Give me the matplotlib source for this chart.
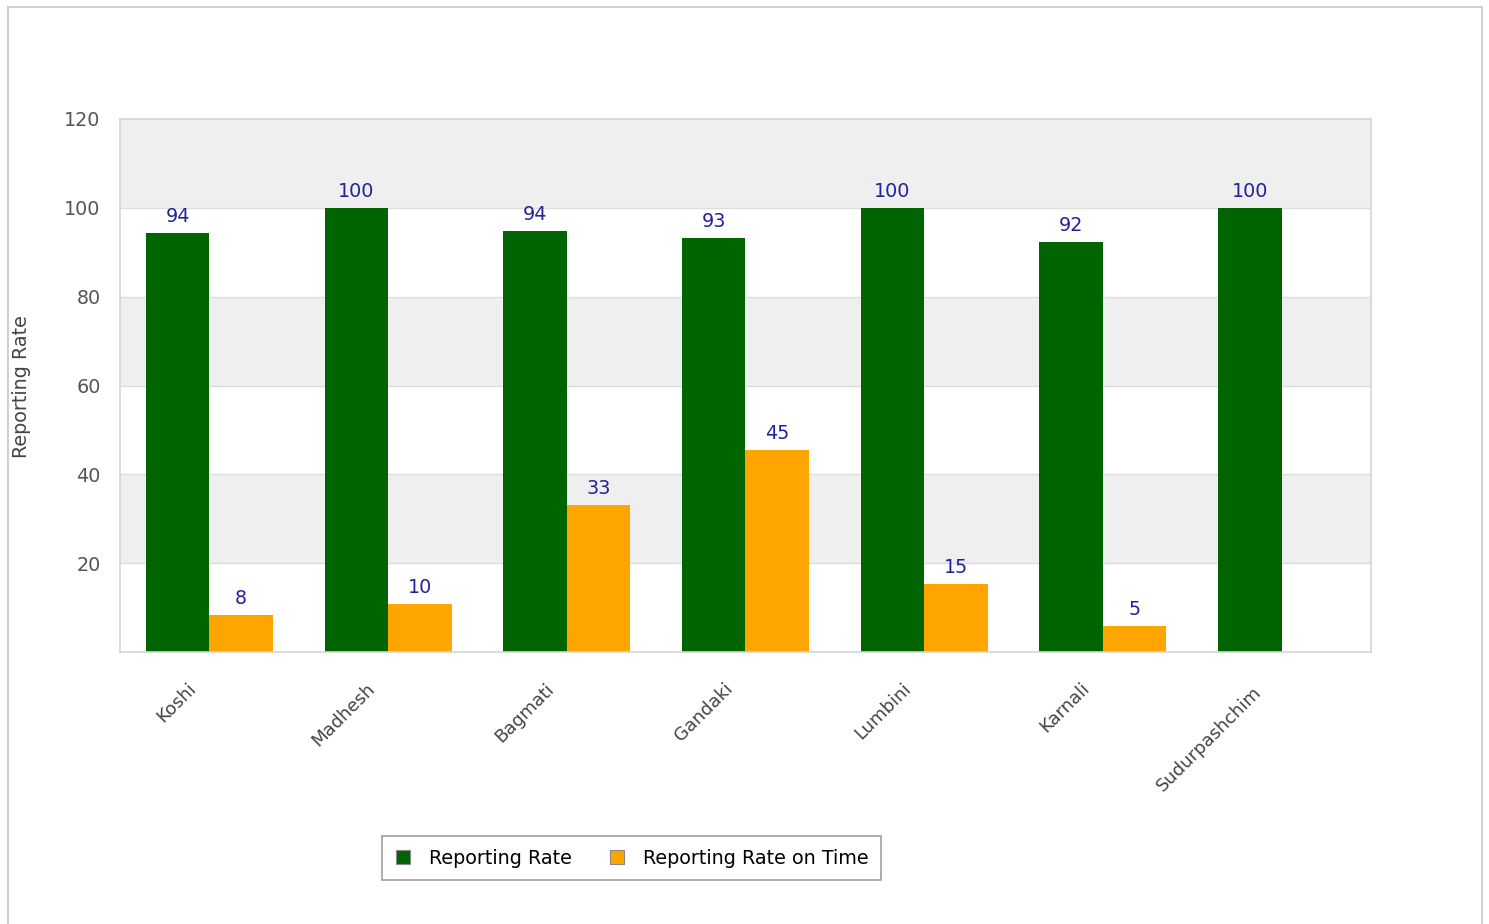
import matplotlib
matplotlib.use("Agg")
import matplotlib.pyplot as plt
import matplotlib.transforms as mtransforms
import numpy as np
from matplotlib.lines import Line2D

provinces = ["Koshi", "Madhesh", "Bagmati", "Gandaki", "Lumbini", "Karnali", "Sudurpashchim"]
reporting_rate = [94.3, 100, 94.8, 93.2, 100, 92.3, 100]
reporting_on_time = [8.3, 10.8, 33.1, 45.5, 15.3, 5.9, 0]
series_names = ["Reporting Rate", "Reporting Rate on Time"]
y_ticks = [20, 40, 60, 80, 100, 120]

GREEN = "#006400"
ORANGE = "#FFA500"
LABEL_COLOR = "#22229a"
TICK_COLOR = "#555555"
FS = 13.8

plt.rcParams['font.family'] = ['DejaVu Sans']

W, H = 1489, 924
fig = plt.figure(figsize=(W / 100, H / 100), dpi=100)
ax = fig.add_axes([120 / W, 1 - 652 / H, (1371 - 120) / W, (652 - 119) / H])

# outer border
for xs, ys in (([8 / W, 8 / W], [0, 1 - 7 / H]),
               ([1482 / W, 1482 / W], [0, 1 - 7 / H]),
               ([8 / W, 1482 / W], [1 - 7 / H, 1 - 7 / H])):
    fig.add_artist(Line2D(xs, ys, transform=fig.transFigure, color="#c8c8c8", lw=1.2))

ax.set_xlim(0, len(provinces))
ax.set_ylim(0, 120)

# alternating bands
for i, lo in enumerate(range(0, 120, 20)):
    if i % 2 == 1:
        ax.axhspan(lo, lo + 20, color="#efefef", zorder=0, lw=0)
for yv in y_ticks[:-1]:
    ax.axhline(yv, color="#dddddd", lw=1, zorder=0.5)

x = np.arange(len(provinces)) + 0.5
bw = 0.355
b1 = ax.bar(x - bw / 2, reporting_rate, bw, color=GREEN, zorder=2, label=series_names[0])
b2 = ax.bar(x + bw / 2, reporting_on_time, bw, color=ORANGE, zorder=2, label=series_names[1])

for bars, vals in ((b1, reporting_rate), (b2, reporting_on_time)):
    for rect, v in zip(bars, vals):
        if v <= 0:
            continue
        ax.annotate(str(int(v)), (rect.get_x() + rect.get_width() / 2, v),
                    xytext=(0, 5), textcoords="offset points", ha="center", va="bottom",
                    fontsize=FS, color=LABEL_COLOR, zorder=3)

ax.set_yticks(y_ticks)
ax.set_yticklabels([str(t) for t in y_ticks], fontsize=FS, color=TICK_COLOR)
ax.set_xticks(x)
ax.set_xticklabels(provinces, rotation=45, ha="right", rotation_mode="anchor",
                   fontsize=13, color="#444444")
ax.tick_params(axis="both", length=0)
ax.tick_params(axis="y", pad=14)
ax.tick_params(axis="x", pad=14)

for i, lab in enumerate(ax.get_xticklabels()):
    dx, dy = -22, -8
    if len(lab.get_text()) > 10:
        dx, dy = -29, -12
    lab.set_transform(lab.get_transform() +
                      mtransforms.ScaledTranslation(dx / 100, dy / 100, fig.dpi_scale_trans))

for s in ax.spines.values():
    s.set_color("#d5d5d5")
    s.set_linewidth(1.2)

fig.text(22 / W, 1 - 387 / H, "Reporting Rate", rotation=90, ha="center", va="center",
         fontsize=FS, color="#444444")

handles = [Line2D([], [], marker="s", linestyle="none", markersize=9.5, markerfacecolor=GREEN,
                  markeredgecolor="#888888", markeredgewidth=0.8),
           Line2D([], [], marker="s", linestyle="none", markersize=9.5, markerfacecolor=ORANGE,
                  markeredgecolor="#888888", markeredgewidth=0.8)]
leg = fig.legend(handles, series_names, loc="center", bbox_to_anchor=(631.5 / W, 1 - 858 / H),
                 ncol=2, frameon=True, fancybox=False, fontsize=FS, handletextpad=0.9,
                 columnspacing=1.9, borderpad=0.65, handlelength=0.9, borderaxespad=0)
leg.get_frame().set_edgecolor("#888888")
leg.get_frame().set_linewidth(1.2)

fig.savefig("out.png", dpi=100, facecolor="white")
